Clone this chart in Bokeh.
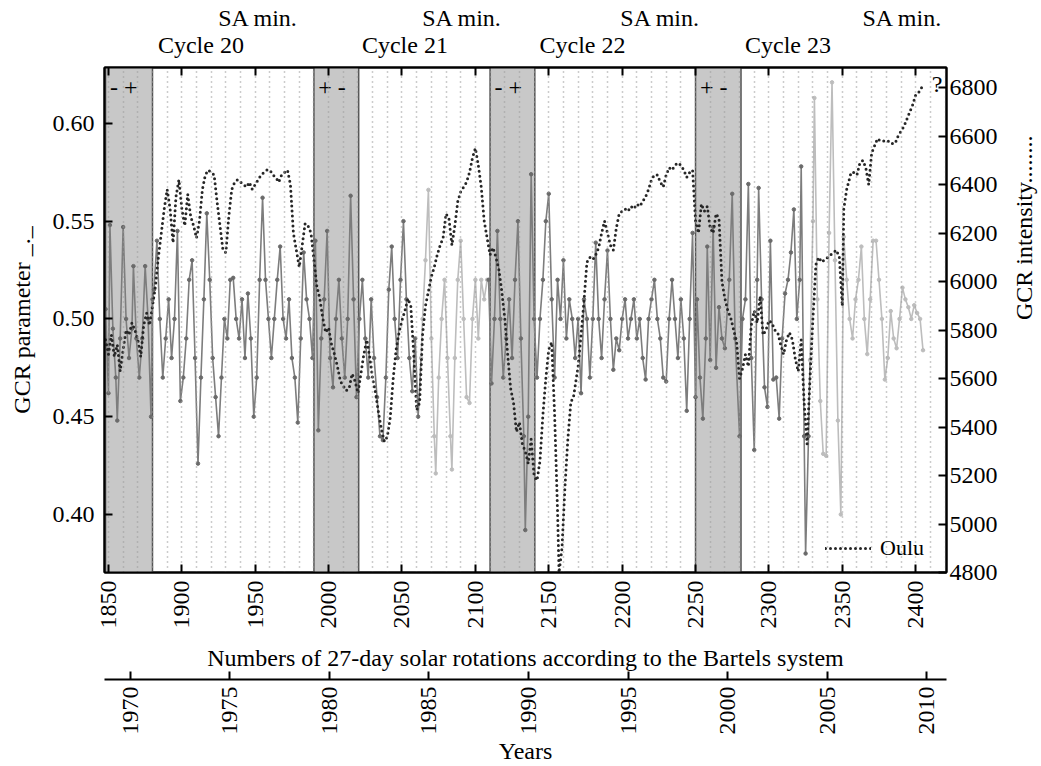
import math
from bokeh.plotting import figure
from bokeh.models import (Range1d, LinearAxis, FixedTicker, SingleIntervalTicker,
                          Legend, LegendItem, ColumnDataSource, NumeralTickFormatter)
from bokeh.core.properties import value
from bokeh.embed import file_html
from bokeh.resources import INLINE

FONT = "Liberation Serif"

# ---------------- data ----------------
band_start = [1848, 1990, 2110, 2250]
band_end = [1880, 2020.5, 2140.5, 2281]
band_signs = ["- +", "+ -", "- +", "+ -"]

sa_min_rot = [1952, 2091, 2226, 2391]
cycle_rot = [1913, 2052, 2173, 2313]
cycle_names = ["Cycle 20", "Cycle 21", "Cycle 22", "Cycle 23"]

rot_ticks = list(range(1850, 2401, 50))
year_ticks = list(range(1970, 2011, 5))
gcr_ticks = [0.40, 0.45, 0.50, 0.55, 0.60]
oulu_ticks = list(range(4800, 6801, 200))

oulu_rot = [1848, 1850, 1852, 1854, 1856, 1858, 1860, 1862, 1864, 1866, 1868, 1870, 1872, 1874, 1876, 1878,
            1880, 1882, 1884, 1886, 1888, 1890, 1892, 1894, 1896, 1898, 1900, 1902, 1904, 1906, 1908, 1910,
            1912, 1914, 1916, 1918, 1920, 1922, 1924, 1926, 1928, 1930, 1932, 1934, 1936, 1938, 1940, 1942,
            1944, 1946, 1948, 1950, 1952, 1954, 1956, 1958, 1960, 1962, 1964, 1966, 1968, 1970, 1972, 1974,
            1976, 1978, 1980, 1982, 1984, 1986, 1988, 1990, 1992, 1994, 1996, 1998, 2000, 2002, 2004, 2006,
            2008, 2010, 2012, 2014, 2016, 2018, 2020, 2022, 2024, 2026, 2028, 2030, 2032, 2034, 2036, 2038,
            2040, 2042, 2044, 2046, 2048, 2050, 2052, 2054, 2056, 2058, 2060, 2062, 2064, 2066, 2068, 2070,
            2072, 2074, 2076, 2078, 2080, 2082, 2084, 2086, 2088, 2090, 2092, 2094, 2096, 2098, 2100, 2102,
            2104, 2106, 2108, 2110, 2112, 2114, 2116, 2118, 2120, 2122, 2124, 2126, 2128, 2130, 2132, 2134,
            2136, 2138, 2140, 2142, 2144, 2146, 2148, 2150, 2152, 2154, 2156, 2157, 2159, 2161, 2163, 2165,
            2167, 2170, 2172, 2174, 2176, 2178, 2180, 2182, 2184, 2186, 2188, 2190, 2192, 2194, 2196, 2198,
            2200, 2202, 2204, 2206, 2208, 2210, 2212, 2214, 2216, 2218, 2220, 2222, 2224, 2226, 2228, 2230,
            2232, 2234, 2236, 2238, 2240, 2242, 2244, 2246, 2248, 2250, 2252, 2254, 2256, 2258, 2260, 2262,
            2264, 2266, 2268, 2270, 2272, 2274, 2276, 2278, 2280, 2282, 2284, 2286, 2288, 2290, 2292, 2294,
            2296, 2298, 2300, 2302, 2304, 2306, 2308, 2310, 2312, 2314, 2316, 2318, 2320, 2322, 2324, 2326,
            2328, 2330, 2332, 2334, 2336, 2338, 2340, 2342, 2344, 2346, 2348, 2350, 2351, 2353, 2356, 2358,
            2360, 2362, 2364, 2366, 2368, 2370, 2372, 2374, 2376, 2378, 2380, 2382, 2384, 2386, 2388, 2390,
            2392, 2394, 2396, 2398, 2400, 2402, 2404, 2406]
oulu_val = [5760, 5700, 5780, 5690, 5740, 5630, 5720, 5800, 5780, 5830, 5800, 5760, 5690, 5820, 5870, 5820,
            5900, 5980, 6100, 6200, 6300, 6380, 6300, 6160, 6350, 6420, 6300, 6230, 6360, 6270, 6230, 6180,
            6250, 6380, 6440, 6460, 6450, 6440, 6330, 6230, 6130, 6120, 6270, 6380, 6410, 6420, 6410, 6400,
            6390, 6410, 6380, 6400, 6420, 6440, 6450, 6460, 6460, 6440, 6430, 6410, 6440, 6450, 6460, 6400,
            6200, 6130, 6060, 6150, 6240, 6230, 6200, 6090, 5980, 5930, 5850, 5790, 5810, 5740, 5700, 5650,
            5590, 5570, 5550, 5560, 5620, 5590, 5540, 5620, 5700, 5760, 5690, 5600, 5540, 5460, 5390, 5340,
            5360, 5440, 5600, 5720, 5790, 5840, 5880, 5930, 5900, 5700, 5470, 5500, 5780, 5900, 5960, 6020,
            6060, 6110, 6150, 6180, 6280, 6260, 6150, 6230, 6330, 6370, 6390, 6410, 6450, 6510, 6550, 6480,
            6390, 6250, 6180, 6110, 6140, 6100, 6050, 5960, 5850, 5700, 5560, 5500, 5380, 5420, 5330, 5300,
            5250, 5350, 5200, 5180, 5260, 5450, 5600, 5720, 5750, 5450, 5050, 4800, 4900, 5150, 5350, 5500,
            5530, 5650, 5780, 5920, 6080, 6100, 6090, 6110, 6140, 6200, 6250, 6200, 6150, 6130, 6220, 6280,
            6290, 6300, 6290, 6310, 6300, 6320, 6310, 6330, 6350, 6380, 6420, 6440, 6440, 6410, 6390, 6440,
            6470, 6460, 6480, 6490, 6480, 6460, 6430, 6450, 6460, 6250, 6200, 6320, 6290, 6310, 6220, 6200,
            6280, 6260, 6000, 5930, 5880, 5850, 5800, 5750, 5600, 5640, 5700, 5650, 5820, 5880, 5830, 5940,
            5780, 5800, 5840, 5830, 5800, 5790, 5740, 5700, 5760, 5790, 5760, 5680, 5630, 5760, 5500, 5330,
            5600, 5850, 6070, 6100, 6080, 6090, 6100, 6110, 6120, 6130, 6100, 5900, 6300, 6380, 6450, 6450,
            6440, 6490, 6500, 6470, 6400, 6530, 6560, 6590, 6580, 6580, 6575, 6580, 6570, 6570, 6600, 6620,
            6640, 6670, 6700, 6730, 6770, 6780, 6800, 6810]

gcr_rot = [1848, 1850, 1851, 1853, 1855, 1856, 1858, 1860, 1862, 1864, 1866, 1867, 1869, 1871, 1873, 1875,
           1877, 1879, 1880, 1881, 1883, 1885, 1887, 1889, 1891, 1893, 1895, 1897, 1899, 1901, 1903, 1905,
           1907, 1909, 1911, 1913, 1915, 1917, 1919, 1921, 1923, 1925, 1927, 1929, 1931, 1933, 1935, 1937,
           1939, 1941, 1943, 1945, 1947, 1949, 1951, 1953, 1955, 1957, 1959, 1961, 1963, 1965, 1967, 1969,
           1971, 1973, 1975, 1977, 1979, 1981, 1983, 1985, 1987, 1989, 1991, 1993, 1995, 1997, 1999, 2001,
           2003, 2005, 2007, 2009, 2011, 2013, 2015, 2017, 2019, 2021, 2023, 2025, 2027, 2029, 2031, 2033,
           2035, 2037, 2039, 2041, 2043, 2045, 2047, 2049, 2051, 2053, 2055, 2057, 2059, 2061, 2063, 2064,
           2066, 2068, 2070, 2072, 2073, 2075, 2077, 2079, 2081, 2083, 2084, 2086, 2088, 2090, 2092, 2094,
           2096, 2098, 2100, 2102, 2104, 2106, 2108, 2109, 2111, 2113, 2115, 2117, 2119, 2121, 2123, 2125,
           2127, 2129, 2131, 2133, 2134, 2136, 2138, 2140, 2142, 2144, 2146, 2148, 2150, 2152, 2154, 2156,
           2158, 2160, 2162, 2164, 2166, 2168, 2170, 2172, 2174, 2176, 2178, 2180, 2182, 2184, 2186, 2188,
           2190, 2192, 2194, 2196, 2198, 2200, 2202, 2204, 2206, 2208, 2210, 2212, 2214, 2216, 2218, 2220,
           2222, 2224, 2226, 2228, 2230, 2232, 2234, 2236, 2238, 2240, 2242, 2244, 2246, 2248, 2250, 2251,
           2253, 2255, 2257, 2258, 2260, 2262, 2264, 2266, 2268, 2270, 2273, 2275, 2277, 2280, 2282, 2284,
           2286, 2288, 2290, 2292, 2293, 2295, 2297, 2299, 2301, 2303, 2305, 2307, 2309, 2311, 2313, 2315,
           2317, 2319, 2321, 2322, 2324, 2325, 2327, 2328, 2330, 2331, 2333, 2335, 2337, 2339, 2341, 2343,
           2345, 2347, 2349, 2351, 2353, 2355, 2357, 2359, 2361, 2363, 2365, 2367, 2369, 2371, 2373, 2375,
           2377, 2379, 2381, 2383, 2385, 2387, 2389, 2391, 2393, 2395, 2397, 2399, 2401, 2403, 2405]
gcr_val = [0.505, 0.462, 0.548, 0.495, 0.470, 0.448, 0.490, 0.547, 0.500, 0.480, 0.495, 0.527, 0.490, 0.470, 0.490, 0.527,
           0.500, 0.450, 0.510, 0.515, 0.540, 0.500, 0.470, 0.490, 0.510, 0.480, 0.500, 0.545, 0.458, 0.470, 0.490, 0.520,
           0.530, 0.480, 0.426, 0.470, 0.510, 0.554, 0.520, 0.480, 0.460, 0.440, 0.470, 0.500, 0.490, 0.520, 0.521, 0.500,
           0.490, 0.510, 0.480, 0.513, 0.490, 0.450, 0.470, 0.520, 0.562, 0.520, 0.500, 0.480, 0.500, 0.520, 0.537, 0.500,
           0.490, 0.510, 0.480, 0.470, 0.447, 0.490, 0.534, 0.510, 0.500, 0.480, 0.540, 0.443, 0.490, 0.510, 0.545, 0.480,
           0.465, 0.500, 0.520, 0.490, 0.470, 0.500, 0.563, 0.510, 0.460, 0.500, 0.520, 0.490, 0.470, 0.510, 0.480, 0.460,
           0.440, 0.438, 0.470, 0.515, 0.537, 0.500, 0.480, 0.520, 0.550, 0.510, 0.480, 0.463, 0.490, 0.450, 0.480, 0.500,
           0.530, 0.566, 0.490, 0.440, 0.421, 0.470, 0.500, 0.520, 0.480, 0.440, 0.423, 0.480, 0.520, 0.540, 0.500, 0.460,
           0.457, 0.500, 0.520, 0.490, 0.520, 0.510, 0.520, 0.520, 0.467, 0.500, 0.545, 0.500, 0.470, 0.490, 0.510, 0.480,
           0.520, 0.550, 0.490, 0.440, 0.392, 0.450, 0.574, 0.500, 0.470, 0.500, 0.520, 0.550, 0.564, 0.510, 0.470, 0.520,
           0.500, 0.530, 0.490, 0.510, 0.500, 0.480, 0.500, 0.462, 0.510, 0.500, 0.470, 0.500, 0.539, 0.500, 0.480, 0.510,
           0.535, 0.500, 0.474, 0.490, 0.484, 0.500, 0.510, 0.490, 0.500, 0.510, 0.490, 0.500, 0.480, 0.469, 0.500, 0.510,
           0.520, 0.500, 0.490, 0.470, 0.468, 0.500, 0.520, 0.500, 0.480, 0.510, 0.490, 0.453, 0.500, 0.544, 0.460, 0.510,
           0.470, 0.449, 0.490, 0.537, 0.479, 0.547, 0.475, 0.506, 0.490, 0.485, 0.520, 0.564, 0.490, 0.440, 0.500, 0.510,
           0.569, 0.480, 0.433, 0.520, 0.567, 0.510, 0.465, 0.455, 0.540, 0.469, 0.470, 0.449, 0.490, 0.513, 0.520, 0.534,
           0.556, 0.500, 0.520, 0.578, 0.440, 0.380, 0.440, 0.479, 0.550, 0.613, 0.510, 0.458, 0.431, 0.430, 0.544, 0.621,
           0.530, 0.448, 0.400, 0.542, 0.520, 0.500, 0.490, 0.510, 0.520, 0.537, 0.500, 0.482, 0.510, 0.540, 0.540, 0.520,
           0.500, 0.469, 0.480, 0.504, 0.490, 0.485, 0.500, 0.516, 0.510, 0.506, 0.500, 0.507, 0.503, 0.500, 0.484]

light_spans = [(2063, 2108), (2328, 2405)]

# ---------------- figure ----------------
p = figure(width=1041, height=766, x_range=Range1d(1847.3, 2421), y_range=Range1d(0.3703, 0.6286),
           output_backend="svg", toolbar_location=None,
           min_border_left=104, min_border_right=95, min_border_top=67, min_border_bottom=194)
p.extra_y_ranges = {"oulu": Range1d(4800, 6883)}
p.extra_x_ranges = {"years": Range1d(1968.7, 2011.0)}
p.outline_line_color = "black"
p.outline_line_width = 2
p.background_fill_color = "white"

# grid: dotted vertical lines every 10 rotations
p.ygrid.grid_line_color = None
p.xgrid.ticker = SingleIntervalTicker(interval=10)
p.xgrid.grid_line_color = "#9a9a9a"
p.xgrid.grid_line_dash = "1 4"
p.xgrid.grid_line_width = 1.5
p.xgrid.level = "glyph"


def style_axis(ax, ticks, size="24px"):
    ax.ticker = FixedTicker(ticks=ticks)
    ax.major_tick_in = 8
    ax.major_tick_out = 0
    ax.minor_tick_line_color = None
    ax.axis_line_width = 2
    ax.major_tick_line_width = 2
    ax.axis_line_color = "black"
    ax.major_tick_line_color = "black"
    ax.major_label_text_font = FONT
    ax.major_label_text_font_size = size
    ax.major_label_text_color = "black"
    ax.axis_label_text_font = FONT
    ax.axis_label_text_font_size = "24px"
    ax.axis_label_text_font_style = "normal"
    ax.axis_label_text_color = "black"


# left axis
ly = p.yaxis[0]
style_axis(ly, gcr_ticks)
ly.formatter = NumeralTickFormatter(format="0.00")
ly.axis_label = "GCR parameter _._"
ly.major_label_standoff = 10
ly.axis_label_standoff = 15

# bottom axis (rotations)
bx = p.xaxis[0]
style_axis(bx, rot_ticks)
bx.major_label_orientation = math.pi / 2
bx.axis_label = "Numbers of 27-day solar rotations according to the Bartels system\n"
bx.axis_label_text_line_height = 0.22
bx.major_label_standoff = 8
bx.axis_label_standoff = 13

# right axis (Oulu)
ry = LinearAxis(y_range_name="oulu")
style_axis(ry, oulu_ticks)
ry.axis_label = "GCR intensity........\n"
ry.axis_label_text_line_height = -0.3
ry.major_label_standoff = 3
ry.axis_label_standoff = 20
ry.axis_label_orientation = math.pi / 2
p.add_layout(ry, "right")

# top axis (ticks only)
tx = LinearAxis()
style_axis(tx, rot_ticks)
tx.major_label_overrides = {t: "" for t in rot_ticks}
tx.major_label_standoff = 0
p.add_layout(tx, "above")

# top text rows: cycle names and SA minima, as label-only axes
cyc_ax = LinearAxis()
style_axis(cyc_ax, cycle_rot)
cyc_ax.major_label_overrides = {r: n for r, n in zip(cycle_rot, cycle_names)}
cyc_ax.axis_line_color = None
cyc_ax.major_tick_line_color = None
cyc_ax.major_label_standoff = 10
p.add_layout(cyc_ax, "above")

sa_ax = LinearAxis()
style_axis(sa_ax, sa_min_rot)
sa_ax.major_label_overrides = {r: "SA min." for r in sa_min_rot}
sa_ax.axis_line_color = None
sa_ax.major_tick_line_color = None
sa_ax.major_label_standoff = -2
p.add_layout(sa_ax, "above")

# years axis
yx = LinearAxis(x_range_name="years")
style_axis(yx, year_ticks)
yx.major_label_orientation = math.pi / 2
yx.axis_label = "Years"
yx.major_label_standoff = 7
yx.axis_label_standoff = 0
p.add_layout(yx, "below")

# ---------------- bands ----------------
p.quad(left=band_start, right=band_end, bottom=0.0, top=1.0,
       fill_color="#c8c8c8", line_color="#555555", line_width=1.5, level="underlay")

sign_src = ColumnDataSource(dict(x=[s + 3 for s in band_start], y=[0.6185] * len(band_start), t=band_signs))
p.text(x="x", y="y", text="t", source=sign_src, text_font=value(FONT), text_font_size="24px",
       text_align="left", text_baseline="middle", text_color="black")
p.text(x=[2414.5], y=[0.620], text=["?"], text_font=value(FONT), text_font_size="24px",
       text_align="center", text_baseline="middle", text_color="black")

# ---------------- GCR parameter (gray line with dots) ----------------
def is_light(r):
    return any(a <= r <= b for a, b in light_spans)


seg_x, seg_y, seg_c = [], [], []
cx, cy, cc = [gcr_rot[0]], [gcr_val[0]], is_light(gcr_rot[0])
for r, v in zip(gcr_rot[1:], gcr_val[1:]):
    c = is_light(r)
    cx.append(r)
    cy.append(v)
    if c != cc:
        seg_x.append(cx); seg_y.append(cy); seg_c.append(cc)
        cx, cy, cc = [r], [v], c
seg_x.append(cx); seg_y.append(cy); seg_c.append(cc)

DARK = "#7d7d7d"
LIGHT = "#bdbdbd"
p.multi_line(xs=seg_x, ys=seg_y, line_color=[LIGHT if c else DARK for c in seg_c], line_width=1.6)
p.scatter(x=gcr_rot, y=gcr_val, size=3.5, marker="circle",
          color=[LIGHT if is_light(r) else "#6a6a6a" for r in gcr_rot])

# ---------------- Oulu (dotted) ----------------
oulu_r = p.line(x=oulu_rot, y=oulu_val, y_range_name="oulu", line_color="#262626",
                line_width=3, line_dash="0 5", line_cap="round")

legend = Legend(items=[LegendItem(label="Oulu", renderers=[oulu_r])], location=(721, 11),
                background_fill_alpha=0, border_line_color=None, label_text_font=FONT,
                label_text_font_size="22px", label_text_color="black", glyph_width=46,
                padding=2, margin=0, label_standoff=9)
p.add_layout(legend)

open("out.html", "w").write(file_html(p, INLINE))
